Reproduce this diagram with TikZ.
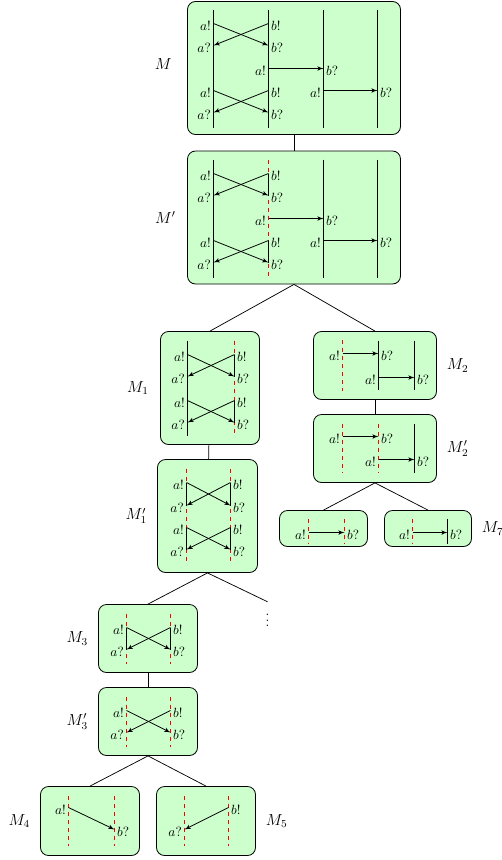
\documentclass[tikz,border=0pt]{standalone}
\usepackage{tikz}
\usetikzlibrary{arrows,positioning}

\begin{document}
\begin{tikzpicture}[x=0.75pt,y=-0.75pt]
\tikzset{box/.style = {shape=rectangle,draw,rounded corners=6pt,fill=green!20,inner sep=0pt,line width=0.6pt}}
\tikzset{mlabel/.style = {font=\large}}
\tikzset{evl/.style = {anchor=east,inner sep=2pt,outer sep=0pt,text height=10pt,text depth=0pt}}
\tikzset{evr/.style = {anchor=west,inner sep=2pt,outer sep=0pt,text height=10pt,text depth=0pt}}
\tikzset{msg/.style = {->,> = latex',line width=0.6pt}}
\tikzset{life/.style = {line width=0.8pt}}
\tikzset{cut/.style = {red,dashed,line width=0.9pt}}
\tikzset{tree/.style = {line width=0.55pt}}
\useasboundingbox (-0.5,-0.5) rectangle (501.5,859.5);
% boxes
\node[box,minimum width=159.75pt,minimum height=99.75pt] (M)   at (293.5,67.5) {};
\node[box,minimum width=159.75pt,minimum height=99.75pt] (Mp)  at (293.5,217) {};
\node[box,minimum width=74.25pt,minimum height=84.75pt]  (M1)  at (209.5,387.5) {};
\node[box,minimum width=75pt,minimum height=84.75pt]     (M1p) at (207,515.5) {};
\node[box,minimum width=92.25pt,minimum height=51pt]     (M2)  at (374.5,365) {};
\node[box,minimum width=92.25pt,minimum height=51pt]     (M2p) at (374.5,448) {};
\node[box,minimum width=66pt,minimum height=27pt]        (M6)  at (323,528) {};
\node[box,minimum width=65.25pt,minimum height=27pt]     (M7)  at (427.5,528) {};
\node[box,minimum width=74.25pt,minimum height=51pt]     (M3)  at (147.5,638) {};
\node[box,minimum width=74.25pt,minimum height=51pt]     (M3p) at (147.5,721) {};
\node[box,minimum width=74.25pt,minimum height=51.75pt]  (M4)  at (89.5,820.5) {};
\node[box,minimum width=74.25pt,minimum height=51.75pt]  (M5)  at (205.5,820.5) {};
\node (dots) at (267,616) {$\vdots$};
% labels
\node[mlabel,left=8pt of M,yshift=3pt] (lM) {$M$};
\node[mlabel,left=5pt of Mp]   (lMp)  {$M'$};
\node[mlabel,left=5pt of M1]   (lM1)  {$M_1$};
\node[mlabel,left=4pt of M1p]  (lM1p) {$M'_1$};
\node[mlabel,right=4pt of M2]  (lM2)  {$M_2$};
\node[mlabel,right=4pt of M2p] (lM2p) {$M'_2$};
\node[mlabel,right=4pt of M7]  (lM7)  {$M_7$};
\node[mlabel,left=4pt of M3]   (lM3)  {$M_3$};
\node[mlabel,left=4pt of M3p]  (lM3p) {$M'_3$};
\node[mlabel,left=4pt of M4]   (lM4)  {$M_4$};
\node[mlabel,right=4pt of M5]  (lM5)  {$M_5$};
% tree
\draw[tree] (M) -- (Mp);
\draw[tree] (Mp.south) -- (M1.north);
\draw[tree] (Mp.south) -- (M2.north);
\draw[tree] (M1) -- (M1p);
\draw[tree] (M2) -- (M2p);
\draw[tree] (M2p.south) -- (M6.north);
\draw[tree] (M2p.south) -- (M7.north);
\draw[tree] (M1p.south) -- (M3.north);
\draw[tree] (M1p.south) -- (dots.north);
\draw[tree] (M3) -- (M3p);
\draw[tree] (M3p.south) -- (M4.north);
\draw[tree] (M3p.south) -- (M5.north);

% M
\draw[life] (213,9) -- (213,127);
\draw[life] (268,9) -- (268,127);
\draw[life] (323,9) -- (323,127);
\draw[life] (377,9) -- (377,127);
\node[evl] (ma1) at (213,23) {$a!$};
\node[evl] (ma2) at (213,45) {$a?$};
\node[evl] (ma3) at (213,90) {$a!$};
\node[evl] (ma4) at (213,112) {$a?$};
\node[evr] (mb1) at (268,23) {$b!$};
\node[evr] (mb2) at (268,45) {$b?$};
\node[evr] (mb3) at (268,90) {$b!$};
\node[evr] (mb4) at (268,112) {$b?$};
\node[evl] (mc1) at (268,68) {$a!$};
\node[evr] (md1) at (323,68) {$b?$};
\node[evl] (mc2) at (323,90) {$a!$};
\node[evr] (md2) at (377,90) {$b?$};
\draw[msg] (ma1.east) -- (mb2.west);
\draw[msg] (mb1.west) -- (ma2.east);
\draw[msg] (ma3.east) -- (mb4.west);
\draw[msg] (mb3.west) -- (ma4.east);
\draw[msg] (mc1.east) -- (md1.west);
\draw[msg] (mc2.east) -- (md2.west);

% M'
\draw[life] (213,159) -- (213,277);
\draw[cut]  (268,159) -- (268,277);
\draw[life] (323,159) -- (323,277);
\draw[life] (377,159) -- (377,277);
\node[evl] (pa1) at (213,173) {$a!$};
\node[evl] (pa2) at (213,195) {$a?$};
\node[evl] (pa3) at (213,240) {$a!$};
\node[evl] (pa4) at (213,262) {$a?$};
\node[evr] (pb1) at (268,173) {$b!$};
\node[evr] (pb2) at (268,195) {$b?$};
\node[evr] (pb3) at (268,240) {$b!$};
\node[evr] (pb4) at (268,262) {$b?$};
\node[evl] (pc1) at (268,218) {$a!$};
\node[evr] (pd1) at (323,218) {$b?$};
\node[evl] (pc2) at (323,240) {$a!$};
\node[evr] (pd2) at (377,240) {$b?$};
\draw[life] (pb1.west) -- (pb2.west);
\draw[life] (pb3.west) -- (pb4.west);
\draw[msg] (pa1.east) -- (pb2.west);
\draw[msg] (pb1.west) -- (pa2.east);
\draw[msg] (pa3.east) -- (pb4.west);
\draw[msg] (pb3.west) -- (pa4.east);
\draw[msg] (pc1.east) -- (pd1.west);
\draw[msg] (pc2.east) -- (pd2.west);

% M_1
\draw[life] (187,340) -- (187,435);
\draw[cut]  (234,340) -- (234,435);
\node[evl] (m1a1) at (187,354) {$a!$};
\node[evl] (m1a2) at (187,376) {$a?$};
\node[evl] (m1a3) at (187,400) {$a!$};
\node[evl] (m1a4) at (187,422) {$a?$};
\node[evr] (m1b1) at (234,354) {$b!$};
\node[evr] (m1b2) at (234,376) {$b?$};
\node[evr] (m1b3) at (234,400) {$b!$};
\node[evr] (m1b4) at (234,422) {$b?$};
\draw[life] (m1b1.west) -- (m1b2.west);
\draw[life] (m1b3.west) -- (m1b4.west);
\draw[msg] (m1a1.east) -- (m1b2.west);
\draw[msg] (m1b1.west) -- (m1a2.east);
\draw[msg] (m1a3.east) -- (m1b4.west);
\draw[msg] (m1b3.west) -- (m1a4.east);

% M'_1
\draw[cut] (186,468) -- (186,563);
\draw[cut] (230,468) -- (230,563);
\node[evl] (n1a1) at (186,482) {$a!$};
\node[evl] (n1a2) at (186,505) {$a?$};
\node[evl] (n1a3) at (186,527) {$a!$};
\node[evl] (n1a4) at (186,549) {$a?$};
\node[evr] (n1b1) at (230,482) {$b!$};
\node[evr] (n1b2) at (230,505) {$b?$};
\node[evr] (n1b3) at (230,527) {$b!$};
\node[evr] (n1b4) at (230,549) {$b?$};
\draw[life] (n1a1.east) -- (n1a2.east);
\draw[life] (n1a3.east) -- (n1a4.east);
\draw[life] (n1b1.west) -- (n1b2.west);
\draw[life] (n1b3.west) -- (n1b4.west);
\draw[msg] (n1a1.east) -- (n1b2.west);
\draw[msg] (n1b1.west) -- (n1a2.east);
\draw[msg] (n1a3.east) -- (n1b4.west);
\draw[msg] (n1b3.west) -- (n1a4.east);

% M_2
\draw[cut]  (342,339) -- (342,390);
\draw[life] (378,340) -- (378,389);
\draw[life] (414,340) -- (414,389);
\node[evl] (m2a1) at (342,353) {$a!$};
\node[evr] (m2b1) at (378,353) {$b?$};
\node[evl] (m2a2) at (378,377) {$a!$};
\node[evr] (m2b2) at (414,377) {$b?$};
\draw[msg] (m2a1.east) -- (m2b1.west);
\draw[msg] (m2a2.east) -- (m2b2.west);

% M'_2
\draw[cut]  (342,423) -- (342,472);
\draw[cut]  (378,423) -- (378,472);
\draw[life] (414,423) -- (414,472);
\node[evl] (n2a1) at (342,436) {$a!$};
\node[evr] (n2b1) at (378,436) {$b?$};
\node[evl] (n2a2) at (378,459) {$a!$};
\node[evr] (n2b2) at (414,459) {$b?$};
\draw[msg] (n2a1.east) -- (n2b1.west);
\draw[msg] (n2a2.east) -- (n2b2.west);

% M_6, M_7
\draw[cut] (308,518) -- (308,543);
\draw[cut] (344,518) -- (344,543);
\node[evl] (m6a) at (308,532) {$a!$};
\node[evr] (m6b) at (344,532) {$b?$};
\draw[msg] (m6a.east) -- (m6b.west);
\draw[cut]  (412,518) -- (412,543);
\draw[life] (447,518) -- (447,543);
\node[evl] (m7a) at (412,532) {$a!$};
\node[evr] (m7b) at (447,532) {$b?$};
\draw[msg] (m7a.east) -- (m7b.west);

% M_3
\draw[cut] (126,613) -- (126,663);
\draw[cut] (170,613) -- (170,663);
\node[evl] (m3a1) at (126,627) {$a!$};
\node[evl] (m3a2) at (126,649) {$a?$};
\node[evr] (m3b1) at (170,627) {$b!$};
\node[evr] (m3b2) at (170,649) {$b?$};
\draw[life] (m3a1.east) -- (m3a2.east);
\draw[life] (m3b1.west) -- (m3b2.west);
\draw[msg] (m3a1.east) -- (m3b2.west);
\draw[msg] (m3b1.west) -- (m3a2.east);

% M'_3
\draw[cut] (126,696) -- (126,746);
\draw[cut] (170,696) -- (170,746);
\node[evl] (n3a1) at (126,710) {$a!$};
\node[evl] (n3a2) at (126,732) {$a?$};
\node[evr] (n3b1) at (170,710) {$b!$};
\node[evr] (n3b2) at (170,732) {$b?$};
\draw[msg] (n3a1.east) -- (n3b2.west);
\draw[msg] (n3b1.west) -- (n3a2.east);

% M_4, M_5
\draw[cut] (68,795) -- (68,845);
\draw[cut] (114,795) -- (114,845);
\node[evl] (m4a) at (68,807) {$a!$};
\node[evr] (m4b) at (114,829) {$b?$};
\draw[msg] (m4a.east) -- (m4b.west);
\draw[cut] (184,795) -- (184,845);
\draw[cut] (228,795) -- (228,845);
\node[evr] (m5b) at (228,807) {$b!$};
\node[evl] (m5a) at (184,829) {$a?$};
\draw[msg] (m5b.west) -- (m5a.east);
\end{tikzpicture}
\end{document}
